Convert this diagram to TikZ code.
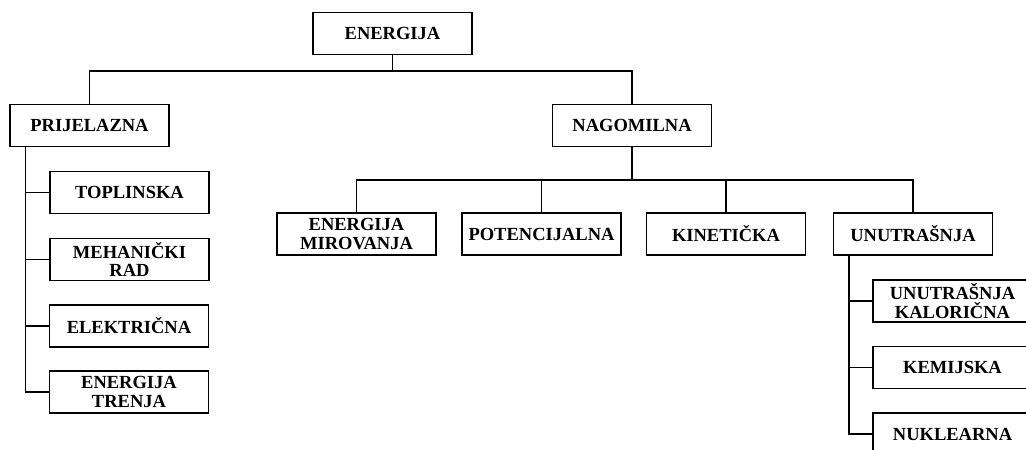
\documentclass[tikz,border=0pt]{standalone}
\usepackage{fontspec}
\setmainfont{Liberation Serif}
\begin{document}
\begin{tikzpicture}
[x=1pt,y=-1pt,line width=1.4pt]
\tikzstyle{every node}=[draw, rectangle, text=black, minimum width=159pt, minimum height=42pt, inner sep=0pt, align=center, font=\fontsize{18.5}{18.3}\selectfont\bfseries]
\tikzstyle{edge}=[draw, line width=1.4pt]
\useasboundingbox (0,0) rectangle (1026,450);
\clip (0,0) rectangle (1026,450);
\node (energija) at (392.5,33.5) {ENERGIJA};
\node (prijelazna) at (89.5,125.5) {PRIJELAZNA};
\node (nagomilna) at (632,125.5) {NAGOMILNA};
\node (toplinska) at (129.5,192.5) {TOPLINSKA};
\node (mehanicki) at (129.5,259.5) {MEHANIČKI\\RAD};
\node (elektricna) at (129,326) {ELEKTRIČNA};
\node (trenja) at (129,392) {ENERGIJA\\TRENJA};
\node (mirovanja) at (356.5,234) {ENERGIJA\\MIROVANJA};
\node (potencijalna) at (541.5,234) {POTENCIJALNA};
\node (kineticka) at (726,234) {KINETIČKA};
\node (unutrasnja) at (913,234) {UNUTRAŠNJA};
\node (kaloricna) at (952.5,301) {UNUTRAŠNJA\\KALORIČNA};
\node (kemijska) at (952.5,367.5) {KEMIJSKA};
\node (nuklearna) at (952.5,434) {NUKLEARNA};
\coordinate (bus1) at (392.5,71);
\coordinate (bus2) at (632,180);
\coordinate (trunk1) at ([xshift=16pt]prijelazna.south west);
\coordinate (trunk2) at ([xshift=16pt]unutrasnja.south west);
\path[edge] (energija.south) -- (bus1);
\path[edge] (prijelazna.north) |- (bus1) -| (nagomilna.north);
\path[edge] (nagomilna.south) -- (bus2);
\path[edge] (mirovanja.north) |- (bus2) -| (unutrasnja.north);
\path[edge] (potencijalna.north) -- (potencijalna.north |- bus2);
\path[edge] (kineticka.north) -- (kineticka.north |- bus2);
\path[edge] (trunk1) |- (trenja.west);
\path[edge] (trunk1 |- toplinska.west) -- (toplinska.west);
\path[edge] (trunk1 |- mehanicki.west) -- (mehanicki.west);
\path[edge] (trunk1 |- elektricna.west) -- (elektricna.west);
\path[edge] (trunk2) |- (nuklearna.west);
\path[edge] (trunk2 |- kaloricna.west) -- (kaloricna.west);
\path[edge] (trunk2 |- kemijska.west) -- (kemijska.west);
\end{tikzpicture}
\end{document}
